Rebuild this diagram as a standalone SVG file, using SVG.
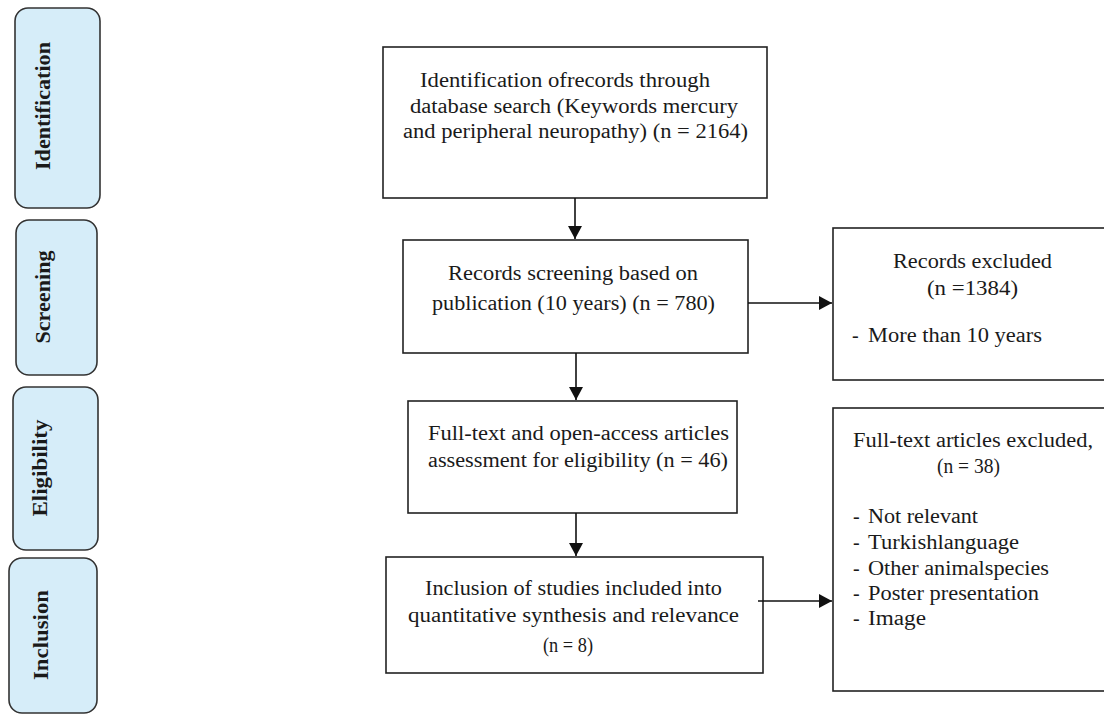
<svg xmlns="http://www.w3.org/2000/svg" width="1104" height="715" viewBox="0 0 1104 715">
<defs>
<marker id="ah" markerUnits="userSpaceOnUse" markerWidth="14" markerHeight="14" viewBox="0 0 14 14" refX="13" refY="7" orient="auto">
<path d="M0,0 L13,7 L0,14 Z" fill="#111"/>
</marker>
<style>
.stage{fill:#d6edf9;stroke:#333;stroke-width:1.6}
.stxt{font-family:"Liberation Serif","Times New Roman",serif;font-size:22px;font-weight:bold;fill:#1a1a1a;text-anchor:middle}
.box{fill:#fff;stroke:#222;stroke-width:1.6}
.t{font-family:"Liberation Serif","Times New Roman",serif;font-size:20px;fill:#1a1a1a}
.conn{stroke:#111;stroke-width:1.6;fill:none;marker-end:url(#ah)}
</style>
</defs>
<rect width="1104" height="715" fill="#fff"/>

<g id="stage-identification">
<rect class="stage" x="15" y="8" width="85" height="200" rx="13"/>
<text class="stxt" x="50" y="106" transform="rotate(-90 50 106)" textLength="128" lengthAdjust="spacingAndGlyphs">Identification</text>
</g>
<g id="stage-screening">
<rect class="stage" x="16" y="220" width="81" height="155" rx="13"/>
<text class="stxt" x="50" y="297" transform="rotate(-90 50 297)" textLength="93" lengthAdjust="spacingAndGlyphs">Screening</text>
</g>
<g id="stage-eligibility">
<rect class="stage" x="13" y="387" width="85" height="163" rx="13"/>
<text class="stxt" x="47" y="468" transform="rotate(-90 47 468)" textLength="97" lengthAdjust="spacingAndGlyphs">Eligibility</text>
</g>
<g id="stage-inclusion">
<rect class="stage" x="9" y="558" width="88" height="155" rx="13"/>
<text class="stxt" x="48" y="635" transform="rotate(-90 48 635)" textLength="90" lengthAdjust="spacingAndGlyphs">Inclusion</text>
</g>

<g id="node-identification">
<rect class="box" x="383" y="47" width="384" height="151"/>
<text class="t" x="420" y="87" textLength="290" lengthAdjust="spacingAndGlyphs">Identification ofrecords through</text>
<text class="t" x="410" y="113" textLength="328" lengthAdjust="spacingAndGlyphs">database search (Keywords mercury</text>
<text class="t" x="403" y="138" textLength="345" lengthAdjust="spacingAndGlyphs">and peripheral neuropathy) (n = 2164)</text>
</g>

<g id="node-screening">
<rect class="box" x="403" y="240" width="345" height="113"/>
<text class="t" x="448" y="280" textLength="250" lengthAdjust="spacingAndGlyphs">Records screening based on</text>
<text class="t" x="432" y="310" textLength="283" lengthAdjust="spacingAndGlyphs">publication (10 years) (n = 780)</text>
</g>

<g id="node-excluded-records">
<rect class="box" x="833" y="228" width="280" height="152"/>
<text class="t" x="893" y="268" textLength="159" lengthAdjust="spacingAndGlyphs">Records excluded</text>
<text class="t" x="927" y="295" textLength="91" lengthAdjust="spacingAndGlyphs">(n =1384)</text>
<text class="t" x="852" y="342">-</text>
<text class="t" x="868" y="342" textLength="174" lengthAdjust="spacingAndGlyphs">More than 10 years</text>
</g>

<g id="node-eligibility">
<rect class="box" x="408" y="401" width="329" height="112"/>
<text class="t" x="428" y="440" textLength="301" lengthAdjust="spacingAndGlyphs">Full-text and open-access articles</text>
<text class="t" x="428" y="467" textLength="300" lengthAdjust="spacingAndGlyphs">assessment for eligibility (n = 46)</text>
</g>

<g id="node-inclusion">
<rect class="box" x="386" y="557" width="377" height="116"/>
<text class="t" x="425" y="595" textLength="297" lengthAdjust="spacingAndGlyphs">Inclusion of studies included into</text>
<text class="t" x="408" y="622" textLength="331" lengthAdjust="spacingAndGlyphs">quantitative synthesis and relevance</text>
<text class="t" x="543" y="652" textLength="50" lengthAdjust="spacingAndGlyphs">(n = 8)</text>
</g>

<g id="node-excluded-fulltext">
<rect class="box" x="833" y="408" width="280" height="283"/>
<text class="t" x="853" y="447" textLength="240" lengthAdjust="spacingAndGlyphs">Full-text articles excluded,</text>
<text class="t" x="937" y="473" textLength="63" lengthAdjust="spacingAndGlyphs">(n = 38)</text>
<text class="t" x="853" y="523">-</text>
<text class="t" x="868" y="523" textLength="110" lengthAdjust="spacingAndGlyphs">Not relevant</text>
<text class="t" x="853" y="549">-</text>
<text class="t" x="868" y="549" textLength="151" lengthAdjust="spacingAndGlyphs">Turkishlanguage</text>
<text class="t" x="853" y="575">-</text>
<text class="t" x="868" y="575" textLength="181" lengthAdjust="spacingAndGlyphs">Other animalspecies</text>
<text class="t" x="853" y="600">-</text>
<text class="t" x="868" y="600" textLength="171" lengthAdjust="spacingAndGlyphs">Poster presentation</text>
<text class="t" x="853" y="625">-</text>
<text class="t" x="868" y="625" textLength="58" lengthAdjust="spacingAndGlyphs">Image</text>
</g>

<g id="connectors">
<line class="conn" x1="575" y1="198" x2="575" y2="239"/>
<line class="conn" x1="576" y1="353" x2="576" y2="400"/>
<line class="conn" x1="576" y1="513" x2="576" y2="556"/>
<line class="conn" x1="748" y1="303" x2="832" y2="303"/>
<line class="conn" x1="758" y1="601" x2="832" y2="601"/>
</g>
</svg>
